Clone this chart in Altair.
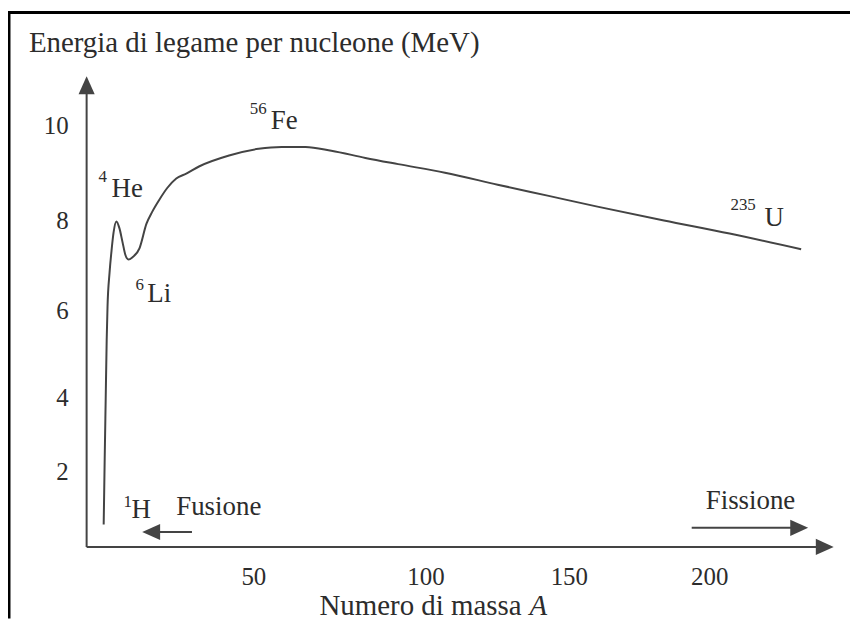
import altair as alt
import pandas as pd

# ---- data ----
mass_number = [5.1, 5.4, 5.7, 6.0, 6.25, 6.85, 7.45, 8.05, 8.9, 9.8, 10.7, 11.6, 12.5, 13.7,
               15.8, 17.9, 19.6, 21.7, 24.1, 26.8, 29.8, 33.6, 42.6, 51.4, 58.1, 65.0, 72.5,
               82.4, 91.9, 106.6, 125, 142.4, 160, 183.7, 207.1, 232.6]
binding_energy = [0.6, 2.35, 3.95, 5.33, 6.1, 6.85, 7.35, 7.75, 8.0, 7.85, 7.55, 7.25, 7.15, 7.2,
                  7.4, 7.95, 8.2, 8.45, 8.7, 8.9, 9.0, 9.15, 9.38, 9.52, 9.56, 9.56, 9.48,
                  9.33, 9.2, 9.02, 8.77, 8.54, 8.31, 8.02, 7.73, 7.38]

x_ticks = [50, 100, 150, 200]
y_ticks = [2, 4, 6, 8, 10]

label_text = ["He", "Li", "Fe", "U", "H", "Fusione", "Fissione"]
label_A = [7.44, 18.15, 54.9, 219.5, 13.4, 26.8, 198.6]
label_E = [8.67, 6.38, 10.1, 8.08, 0.99, 1.07, 1.23]

sup_text = ["4", "6", "56", "235", "1"]
sup_A = [3.57, 14.6, 48.8, 207.4, 11.0]
sup_E = [8.92, 6.58, 10.35, 8.35, 1.2]

# arrows: axes and the Fusione / Fissione arrows
arrow_A0 = [0, 0, 31.5, 193.6]
arrow_A1 = [0, 241.0, 19.3, 231.9]
arrow_E0 = [0, 0, 0.4, 0.51]
arrow_E1 = [10.85, 0, 0.4, 0.51]
arrow_dir = ["up", "right", "left", "right"]

# ---- styling ----
FONT = "Liberation Serif"
INK = "#2c2c2c"
LINE = "#444444"
W, H = 846, 612
head_paths = {"up": "M0,-1L-0.9,1L0.9,1Z",
              "right": "M1,0L-1,-0.9L-1,0.9Z",
              "left": "M-1,0L1,-0.9L1,0.9Z"}

# scales (the printed axis is not evenly spaced, so piecewise-linear)
xs = alt.Scale(domain=[0, 50, 100, 150, 200, 250], range=[79, 247, 420, 564, 705, 846],
               nice=False, zero=False)
ys = alt.Scale(domain=[0, 2, 4, 6, 8, 10], range=[540, 465, 390, 303, 213, 117],
               nice=False, zero=False)

curve_df = pd.DataFrame({"A": mass_number, "E": binding_energy})
xt_df = pd.DataFrame({"A": x_ticks, "t": [str(v) for v in x_ticks]})
yt_df = pd.DataFrame({"E": y_ticks, "t": [str(v) for v in y_ticks]})
lab_df = pd.DataFrame({"A": label_A, "E": label_E, "t": label_text})
sup_df = pd.DataFrame({"A": sup_A, "E": sup_E, "t": sup_text})
arr_df = pd.DataFrame({"A0": arrow_A0, "A1": arrow_A1, "E0": arrow_E0, "E1": arrow_E1,
                       "dir": arrow_dir})
arr_df["path"] = arr_df["dir"].map(head_paths)

X = lambda f: alt.X(f, type="quantitative", scale=xs, axis=None)
Y = lambda f: alt.Y(f, type="quantitative", scale=ys, axis=None)

curve = alt.Chart(curve_df).mark_line(color=LINE, strokeWidth=2, interpolate="monotone").encode(
    x=X("A"), y=Y("E"))

shafts = alt.Chart(arr_df).mark_rule(color=LINE, strokeWidth=2).encode(
    x=X("A0"), x2="A1", y=Y("E0"), y2="E1")

heads = alt.Chart(arr_df).mark_point(filled=True, color=LINE, opacity=1, size=324).encode(
    x=X("A1"), y=Y("E1"), shape=alt.Shape("path:N", scale=None))

xtl = alt.Chart(xt_df).mark_text(font=FONT, fontSize=25, color=INK, baseline="middle",
                                 align="center").encode(x=X("A"), y=alt.value(570), text="t:N")
ytl = alt.Chart(yt_df).mark_text(font=FONT, fontSize=25, color=INK, baseline="middle",
                                 align="right").encode(x=alt.value(61), y=Y("E"), text="t:N")

labels = alt.Chart(lab_df).mark_text(font=FONT, fontSize=27, color=INK, baseline="middle",
                                     align="left").encode(x=X("A"), y=Y("E"), text="t:N")
sups = alt.Chart(sup_df).mark_text(font=FONT, fontSize=17, color=INK, baseline="middle",
                                   align="left").encode(x=X("A"), y=Y("E"), text="t:N")

ytitle = alt.Chart(pd.DataFrame({"t": ["Energia di legame per nucleone (MeV)"]})).mark_text(
    font=FONT, fontSize=29, color=INK, align="left", baseline="middle").encode(
    x=alt.value(21), y=alt.value(34), text="t:N")
xtitle = alt.Chart(pd.DataFrame({"t": ["Numero di massa"]})).mark_text(
    font=FONT, fontSize=29, color=INK, align="left", baseline="middle").encode(
    x=alt.value(313), y=alt.value(599), text="t:N")
xtitle_a = alt.Chart(pd.DataFrame({"t": ["A"]})).mark_text(
    font=FONT, fontSize=29, fontStyle="italic", color=INK, align="left", baseline="middle").encode(
    x=alt.value(524), y=alt.value(599), text="t:N")

border_left = alt.Chart(pd.DataFrame({"k": [0]})).mark_rule(color="black", strokeWidth=3).encode(
    x=alt.value(1), y=alt.value(1.5), y2=alt.value(H))
border_top = alt.Chart(pd.DataFrame({"k": [0]})).mark_rule(color="black", strokeWidth=3).encode(
    x=alt.value(0), x2=alt.value(W), y=alt.value(3))

chart = alt.layer(
    border_left, border_top, shafts, heads, curve, xtl, ytl, labels, sups, ytitle, xtitle, xtitle_a
).properties(
    width=W, height=H, padding=0, autosize=alt.AutoSizeParams(type="none"), background="white"
).configure_view(strokeWidth=0)

chart.save("out.html", embed_options={"renderer": "svg", "actions": False})
